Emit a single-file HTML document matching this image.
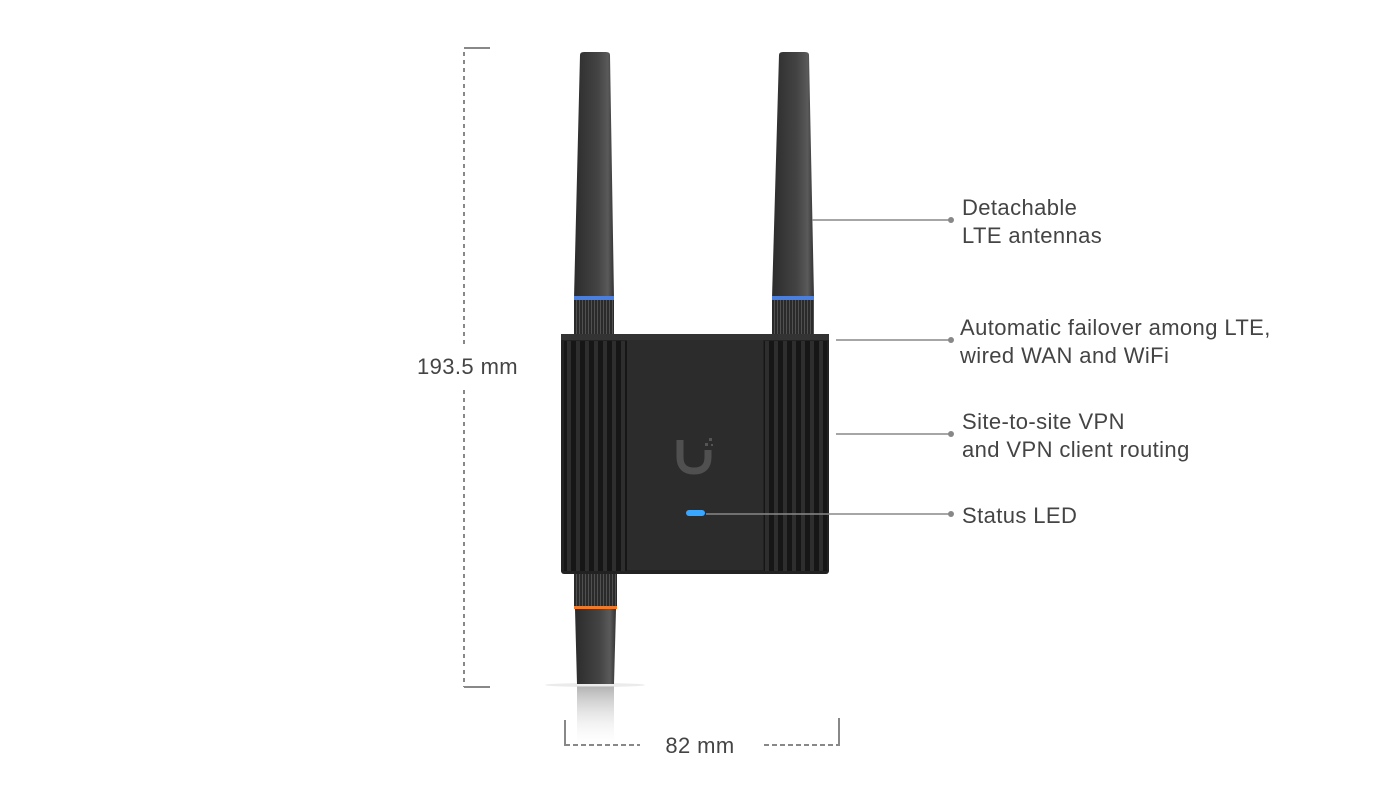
<!DOCTYPE html>
<html><head><meta charset="utf-8"><style>
html,body{margin:0;padding:0;background:#fff;}
svg{display:block;}
text{font-family:"Liberation Sans",sans-serif;fill:#444;font-size:22px;letter-spacing:0.4px;}
</style></head><body>
<svg width="1400" height="790" viewBox="0 0 1400 790" xmlns="http://www.w3.org/2000/svg">
<defs>
<linearGradient id="ant" x1="0" x2="1" y1="0" y2="0">
<stop offset="0" stop-color="#2c2c2c"/><stop offset="0.6" stop-color="#444"/><stop offset="0.85" stop-color="#5a5a5a"/><stop offset="1" stop-color="#333"/>
</linearGradient>
<pattern id="knurl" width="3" height="10" patternUnits="userSpaceOnUse">
<rect width="3" height="10" fill="#2a2a2a"/><rect width="1" height="10" fill="#505050"/>
</pattern>
<pattern id="fins" width="9" height="10" patternUnits="userSpaceOnUse">
<rect width="9" height="10" fill="#161616"/><rect x="0" width="4" height="10" fill="#2e2e2e"/>
</pattern>
<linearGradient id="refl" x1="0" x2="0" y1="0" y2="1">
<stop offset="0" stop-color="#666" stop-opacity="0.5"/><stop offset="0.7" stop-color="#fff" stop-opacity="0"/>
</linearGradient>
</defs>

<line x1="464" y1="48" x2="490" y2="48" stroke="#888" stroke-width="2"/>
<line x1="464" y1="687" x2="490" y2="687" stroke="#888" stroke-width="2"/>
<line x1="464" y1="52" x2="464" y2="345" stroke="#888" stroke-width="2" stroke-dasharray="4,4"/>
<line x1="464" y1="390" x2="464" y2="687" stroke="#888" stroke-width="2" stroke-dasharray="4,4"/>
<text x="417" y="374">193.5 mm</text>

<rect x="577" y="686" width="37" height="90" fill="url(#refl)"/>
<ellipse cx="595" cy="685" rx="50" ry="2" fill="#ddd" opacity="0.6"/>

<path d="M580 55 Q580 52 584 52 L606 52 Q610 52 610 55 L614 298 L574 298 Z" fill="url(#ant)"/>
<path d="M779 55 Q779 52 783 52 L805 52 Q809 52 809 55 L814 298 L772 298 Z" fill="url(#ant)"/>
<rect x="574" y="296" width="40" height="4" fill="#4a7fe0"/>
<rect x="772" y="296" width="42" height="4" fill="#4a7fe0"/>
<rect x="574" y="300" width="40" height="34" fill="url(#knurl)"/>
<rect x="772" y="300" width="42" height="34" fill="url(#knurl)"/>

<rect x="561" y="334" width="268" height="240" rx="3" fill="#222"/>
<rect x="564" y="341" width="63" height="230" fill="url(#fins)"/>
<rect x="764" y="341" width="63" height="230" fill="url(#fins)"/>
<rect x="627" y="340" width="136" height="230" fill="#2c2c2c"/>
<rect x="561" y="334" width="268" height="6" fill="#333"/>
<path d="M680 440 L680 457 Q680 471 694 471 Q708 471 708 457 L708 450" fill="none" stroke="#505050" stroke-width="7"/>
<rect x="709" y="438" width="3" height="3" fill="#555"/><rect x="705" y="443" width="3" height="3" fill="#555"/><rect x="711" y="444" width="2" height="2" fill="#555"/>
<rect x="686" y="510" width="19" height="6" rx="3" fill="#39a6ff"/>

<rect x="574" y="574" width="43" height="33" fill="url(#knurl)"/>
<rect x="574" y="606" width="43" height="3" fill="#f07a2a"/>
<path d="M575 609 L616 609 L614 684 L577 684 Z" fill="url(#ant)"/>

<line x1="565" y1="720" x2="565" y2="746" stroke="#888" stroke-width="2"/>
<line x1="839" y1="718" x2="839" y2="746" stroke="#888" stroke-width="2"/>
<line x1="565" y1="745" x2="640" y2="745" stroke="#888" stroke-width="2" stroke-dasharray="5,3"/>
<line x1="764" y1="745" x2="839" y2="745" stroke="#888" stroke-width="2" stroke-dasharray="5,3"/>
<text x="700" y="753" text-anchor="middle">82 mm</text>

<g stroke="#888" stroke-width="1.5">
<line x1="812" y1="220" x2="950" y2="220"/>
<line x1="836" y1="340" x2="950" y2="340"/>
<line x1="836" y1="434" x2="950" y2="434"/>
<line x1="706" y1="514" x2="950" y2="514"/>
</g>
<g fill="#888">
<circle cx="951" cy="220" r="3"/><circle cx="951" cy="340" r="3"/><circle cx="951" cy="434" r="3"/><circle cx="951" cy="514" r="3"/>
</g>
<text x="962" y="215">Detachable</text>
<text x="962" y="243">LTE antennas</text>
<text x="960" y="335">Automatic failover among LTE,</text>
<text x="960" y="363">wired WAN and WiFi</text>
<text x="962" y="429">Site-to-site VPN</text>
<text x="962" y="457">and VPN client routing</text>
<text x="962" y="523">Status LED</text>
</svg>
</body></html>
